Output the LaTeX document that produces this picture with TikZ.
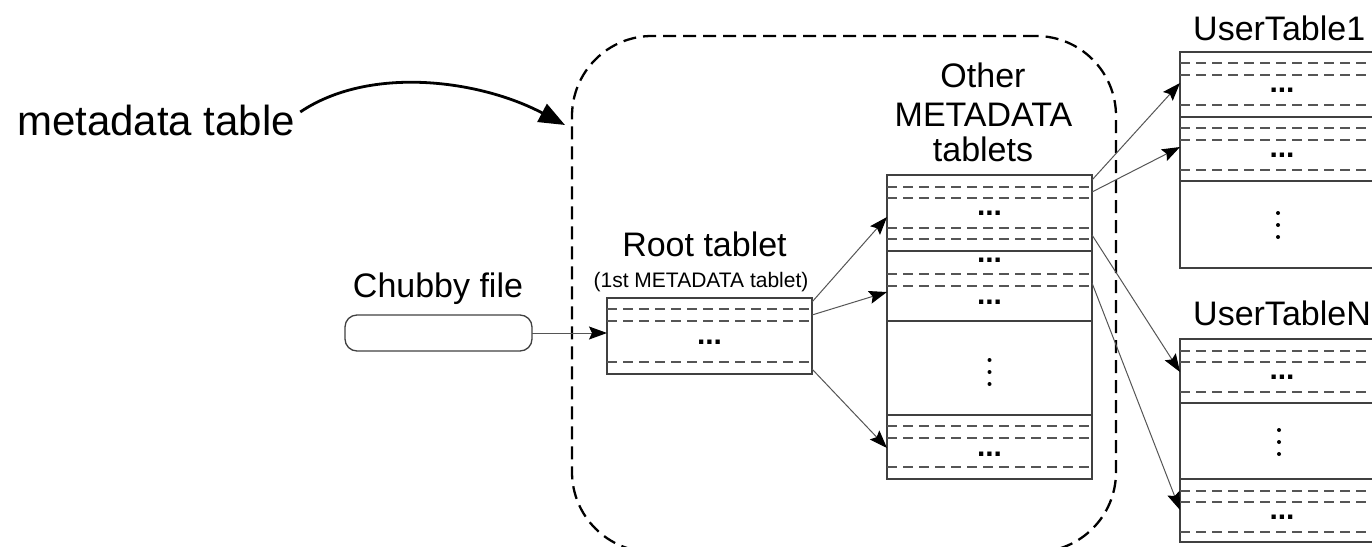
\documentclass[tikz,border=0pt]{standalone}
\usepackage{fontspec}
\setmainfont{Liberation Sans}
\usetikzlibrary{arrows.meta,calc}
\definecolor{boxgray}{HTML}{404040}
\definecolor{sepgray}{HTML}{555555}
\definecolor{arrgray}{HTML}{555555}
\newcommand\mysep[2]{\draw[sepline] (#1.west |- 0,#2) -- (#1.east |- 0,#2);}
\newcommand\mysolid[2]{\draw[solidline] (#1.west |- 0,#2) -- (#1.east |- 0,#2);}
\newcommand\mydots[3]{\node[dotstxt] at (#1,#2) {...};}
\newcommand\myvdots[3]{\fill[black] (#1,#2-12) circle (2pt) (#1,#2) circle (2pt) (#1,#2+12) circle (2pt);}
\begin{document}
\begin{tikzpicture}[x=1pt,y=-1pt,
  box/.style={draw=boxgray,line width=1.3pt,inner sep=0pt,outer sep=0pt,minimum width=205pt},
  sepline/.style={draw=sepgray,line width=1.2pt,dash pattern=on 10pt off 6pt},
  solidline/.style={draw=boxgray,line width=1.3pt},
  arr/.style={draw=arrgray,line width=1pt,-{Stealth[length=18pt,width=13pt,inset=3pt,color=black]}},
  lbl/.style={font=\fontsize{34}{40}\selectfont,anchor=base,inner sep=0pt},
  dotstxt/.style={font=\fontsize{30}{36}\selectfont\bfseries,anchor=base,inner sep=0pt},
  region/.style={draw=black,line width=2.3pt,dash pattern=on 13pt off 7pt,rounded corners=80pt,inner sep=0pt,outer sep=0pt},
]
\useasboundingbox (0,0) rectangle (1372,546);
\clip (0,0) rectangle (1372,546);

% metadata region
\node[region,minimum width=544pt,minimum height=516pt] (meta) at (844,294) {};

% labels
\node[font=\fontsize{42}{48}\selectfont,anchor=base west,inner sep=0pt] (mt) at (17,135) {metadata table};
\node[lbl] (chubbylbl) at (438,297) {Chubby file};
\node[lbl] (rootlbl) at (704.5,256) {Root tablet};
\node[font=\fontsize{21}{25}\selectfont,anchor=base,inner sep=0pt] (rootsub) at (701,287) {(1st METADATA tablet)};
\node[lbl] (oth1) at (983,87) {Other};
\node[lbl] (oth2) at (983.5,126) {METADATA};
\node[lbl] (oth3) at (983,161) {tablets};
\node[lbl,anchor=base west] (ut1lbl) at (1193,40) {UserTable1};
\node[lbl,anchor=base west] (utnlbl) at (1193,325) {UserTableN};

% chubby file
\node[draw=boxgray,line width=1.3pt,rounded corners=12pt,minimum width=187pt,minimum height=36pt,inner sep=0pt,outer sep=0pt] (chubby) at (438.5,333) {};

% root tablet
\node[box,minimum height=76pt] (root) at (709.5,336) {};
\mysep{root}{309}\mysep{root}{321}\mysep{root}{362}
\mydots{709.5}{344}{}

% other metadata tablets
\node[box,minimum height=304pt] (other) at (989.5,327) {};
\mysep{other}{187}\mysep{other}{198}\mysep{other}{228}\mysep{other}{239}
\mysolid{other}{251}
\mysep{other}{274}\mysep{other}{286}
\mysolid{other}{321}
\mysolid{other}{415}
\mysep{other}{426}\mysep{other}{438}\mysep{other}{467}
\mydots{989.5}{215}{}\mydots{989.5}{262}{}\mydots{989.5}{304}{}\mydots{989.5}{456}{}
\myvdots{989.5}{372}{}

% user table 1
\node[box,minimum height=216pt] (ut1) at (1282.5,160) {};
\mysep{ut1}{63}\mysep{ut1}{75}\mysep{ut1}{105}
\mysolid{ut1}{117}
\mysep{ut1}{128}\mysep{ut1}{140}\mysep{ut1}{170}
\mysolid{ut1}{181}
\mydots{1282}{92}{}\mydots{1282}{157}{}
\myvdots{1278}{225}{}

% user table N
\node[box,minimum height=203pt] (utn) at (1282.5,440.5) {};
\mysep{utn}{351}\mysep{utn}{362}\mysep{utn}{392}
\mysolid{utn}{403}
\mysolid{utn}{479}
\mysep{utn}{491}\mysep{utn}{502}\mysep{utn}{532}
\mydots{1282}{379}{}\mydots{1282}{519}{}
\myvdots{1279}{442}{}

% connectors
\draw[arr] (chubby.east) -- (root.west |- chubby.east);
\draw[arr] (root.east |- 0,302) -- (other.west |- 0,217);
\draw[arr] (root.east |- 0,315) -- (other.west |- 0,292);
\draw[arr] (root.east |- 0,369) -- (other.west |- 0,448);
\draw[arr] (other.east |- 0,180) -- (ut1.west |- 0,83);
\draw[arr] (other.east |- 0,192) -- (ut1.west |- 0,147);
\draw[arr] (other.east |- 0,235) -- (utn.west |- 0,372);
\draw[arr] (other.east |- 0,283) -- (utn.west |- 0,510);

% metadata table annotation arrow
\draw[line width=2.8pt,-{Triangle[length=26pt,width=20pt]}]
  ($(mt.east)+(5,-8)$) .. controls (370,65) and (480,80) .. ($(meta.west |- 0,125)+(-7,0)$);
\end{tikzpicture}
\end{document}
